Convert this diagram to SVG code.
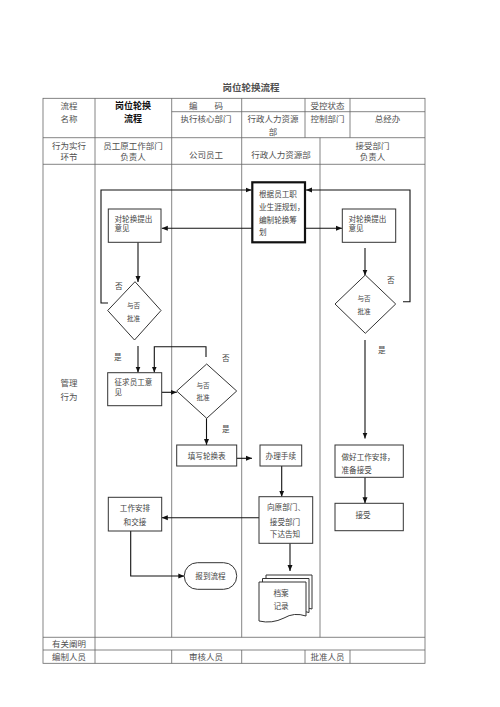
<svg xmlns="http://www.w3.org/2000/svg" width="500" height="707" viewBox="0 0 500 707">
<defs>
<marker id="arr" markerWidth="6" markerHeight="6" refX="6" refY="3" orient="auto" markerUnits="userSpaceOnUse">
<path d="M0,0.5 L6,3 L0,5.5 z" fill="#111"/>
</marker>
<style>
.t{font-family:"Noto Sans CJK SC","Noto Sans",sans-serif;fill:#505050;}
.h{font-size:8.5px;text-anchor:middle;}
.f{font-size:7.6px;fill:#444;}
.c{text-anchor:middle;}
.d{font-size:6.6px;text-anchor:middle;fill:#444;}
.grid{stroke:#666;stroke-width:0.8;fill:none;}
.box{fill:#fff;stroke:#333;stroke-width:1;}
.con{stroke:#111;stroke-width:1.1;fill:none;marker-end:url(#arr);}
</style>
</defs>
<rect width="500" height="707" fill="#fff"/>
<text class="t" x="251" y="90.5" text-anchor="middle" font-size="9.5" font-weight="bold" fill="#111">岗位轮换流程</text>

<g id="table" class="grid">
<rect x="43" y="98.3" width="382" height="565"/>
<line x1="171.7" y1="111.7" x2="425" y2="111.7"/>
<line x1="43" y1="137.7" x2="425" y2="137.7"/>
<line x1="43" y1="164.3" x2="425" y2="164.3"/>
<line x1="43" y1="637.3" x2="425" y2="637.3"/>
<line x1="43" y1="650" x2="425" y2="650"/>
<line x1="95" y1="98.3" x2="95" y2="663.3"/>
<line x1="171.7" y1="98.3" x2="171.7" y2="637.3"/>
<line x1="241.7" y1="98.3" x2="241.7" y2="637.3"/>
<line x1="305" y1="98.3" x2="305" y2="137.7"/>
<line x1="350" y1="98.3" x2="350" y2="137.7"/>
<line x1="320" y1="137.7" x2="320" y2="637.3"/>
<line x1="171.7" y1="650" x2="171.7" y2="663.3"/>
<line x1="241.7" y1="650" x2="241.7" y2="663.3"/>
<line x1="305" y1="650" x2="305" y2="663.3"/>
<line x1="350" y1="650" x2="350" y2="663.3"/>
</g>

<g id="table-text" class="t h">
<text x="69" y="108.5">流程</text>
<text x="69" y="122">名称</text>
<text x="133" y="108.5" font-weight="bold" font-size="9" fill="#111">岗位轮换</text>
<text x="133" y="122" font-weight="bold" font-size="9" fill="#111">流程</text>
<text x="206" y="108.5" xml:space="preserve">编　　码</text>
<text x="327.5" y="108.5">受控状态</text>
<text x="206" y="122">执行核心部门</text>
<text x="273" y="122">行政人力资源</text>
<text x="273" y="134.5">部</text>
<text x="327.5" y="122">控制部门</text>
<text x="387.5" y="122">总经办</text>
<text x="69" y="149">行为实行</text>
<text x="69" y="160">环节</text>
<text x="133" y="149">员工原工作部门</text>
<text x="133" y="160">负责人</text>
<text x="206" y="158">公司员工</text>
<text x="281" y="158">行政人力资源部</text>
<text x="372.5" y="149">接受部门</text>
<text x="372.5" y="160">负责人</text>
<text x="69" y="386">管理</text>
<text x="69" y="400">行为</text>
<text x="69" y="646.5">有关阐明</text>
<text x="69" y="660">编制人员</text>
<text x="206" y="660">审核人员</text>
<text x="327.5" y="660">批准人员</text>
</g>

<g id="connectors">
<polyline class="con" points="108,303 101,303 101,190 251.5,190"/>
<polyline class="con" points="403,301.7 410,301.7 410,190 306,190"/>
<line class="con" x1="252" y1="228.3" x2="161.8" y2="228.3"/>
<line class="con" x1="305" y1="228.3" x2="342" y2="228.3"/>
<line class="con" x1="138" y1="242.3" x2="138" y2="282"/>
<line class="con" x1="365" y1="248" x2="365" y2="275.5"/>
<line class="con" x1="138" y1="346" x2="138" y2="372.5"/>
<polyline class="con" points="206,357 206,346.7 154.3,346.7 154.3,372.5"/>
<line class="con" x1="161.7" y1="392.3" x2="176.8" y2="392.3"/>
<line class="con" x1="206.5" y1="418.3" x2="206.5" y2="445"/>
<line class="con" x1="236.7" y1="458.3" x2="252" y2="458.3"/>
<line class="con" x1="365" y1="340" x2="365" y2="438.5"/>
<line class="con" x1="365" y1="477.3" x2="365" y2="503.3"/>
<line class="con" x1="281.7" y1="465" x2="281.7" y2="496.7"/>
<line class="con" x1="259" y1="517.7" x2="161.8" y2="517.7"/>
<polyline class="con" points="130.7,531 130.7,576 184.3,576"/>
<line class="con" x1="290" y1="543.3" x2="290" y2="571"/>
</g>

<g id="n-plan">
<rect x="252.3" y="182.3" width="52.7" height="60" fill="#fff" stroke="#111" stroke-width="2.2"/>
<text class="t f" x="259" y="197">根据员工职</text>
<text class="t f" x="259" y="210">业生涯规划，</text>
<text class="t f" x="259" y="223">编制轮换筹</text>
<text class="t f" x="259" y="235">划</text>
</g>
<g id="n-opinion-left">
<rect class="box" x="108.3" y="209" width="52.7" height="33.3"/>
<text class="t f" x="114.5" y="221.5">对轮换提出</text>
<text class="t f" x="114.5" y="231">意见</text>
</g>
<g id="n-opinion-right">
<rect class="box" x="342.3" y="209" width="53.4" height="33.3"/>
<text class="t f" x="348.5" y="221.5">对轮换提出</text>
<text class="t f" x="348.5" y="231">意见</text>
</g>
<g id="n-approve-left">
<polygon class="box" points="135,281.7 161,310.5 134.5,340 107.7,310.5"/>
<text class="t d" x="133.5" y="308">与否</text>
<text class="t d" x="133.5" y="321">批准</text>
</g>
<g id="n-approve-right">
<polygon class="box" points="365.3,275 395.7,304 365.3,333.3 335,304"/>
<text class="t d" x="364" y="301">与否</text>
<text class="t d" x="364" y="314">批准</text>
</g>
<g id="n-ask">
<rect class="box" x="107.7" y="372.7" width="54" height="33"/>
<text class="t f" x="114.5" y="384.5">征求员工意</text>
<text class="t f" x="114.5" y="395">见</text>
</g>
<g id="n-approve-mid">
<polygon class="box" points="206.7,364 236.7,391 206.7,418.3 176.7,391"/>
<text class="t d" x="203" y="388">与否</text>
<text class="t d" x="203" y="400">批准</text>
</g>
<g id="n-fill">
<rect class="box" x="176.7" y="445" width="60" height="21"/>
<text class="t f c" x="206.7" y="458.5" font-size="8.3">填写轮换表</text>
</g>
<g id="n-handle">
<rect class="box" x="260" y="445" width="41.7" height="21"/>
<text class="t f c" x="280.8" y="458.5" font-size="8.3">办理手续</text>
</g>
<g id="n-prepare">
<rect class="box" x="335" y="445" width="68.3" height="32.3"/>
<text class="t f" x="341.5" y="459.5" font-size="8.3">做好工作安排，</text>
<text class="t f" x="341.5" y="472.5" font-size="8.3">准备接受</text>
</g>
<g id="n-accept">
<rect class="box" x="335" y="503.3" width="68.3" height="27.4"/>
<text class="t f c" x="363" y="518" font-size="8.3">接受</text>
</g>
<g id="n-notify">
<rect class="box" x="259" y="496.7" width="53.7" height="46.6"/>
<text class="t f c" x="286" y="510" font-size="8.3">向原部门、</text>
<text class="t f c" x="285" y="525" font-size="8.3">接受部门</text>
<text class="t f c" x="285" y="537" font-size="8.3">下达告知</text>
</g>
<g id="n-handover">
<rect class="box" x="108.3" y="497.3" width="53.4" height="33.7"/>
<text class="t f c" x="135" y="511" font-size="8.3">工作安排</text>
<text class="t f c" x="135" y="525" font-size="8.3">和交接</text>
</g>
<g id="n-report">
<rect class="box" x="184.3" y="562.7" width="52.4" height="26.6" rx="13" ry="13"/>
<text class="t f c" x="210.5" y="579" font-size="8.3">报到流程</text>
</g>
<g id="n-archive">
<path class="box" d="M266,575 H312 V609 Q300,605 290,611 Q279,617 266,614 Z"/>
<path class="box" d="M262.5,578.5 H309 V612.5 Q297,608.5 287,614.5 Q276,620.5 262.5,617.5 Z"/>
<path class="box" d="M259,582 H306 V616 Q294,612 284,618 Q272,624 259,621 Z"/>
<text class="t f c" x="281" y="596">档案</text>
<text class="t f c" x="281" y="608.5">记录</text>
</g>

<g id="labels" class="t f">
<text x="115" y="288.5">否</text>
<text x="387" y="283">否</text>
<text x="114" y="359.5">是</text>
<text x="222" y="361">否</text>
<text x="222" y="432">是</text>
<text x="378" y="352.5">是</text>
</g>
</svg>
